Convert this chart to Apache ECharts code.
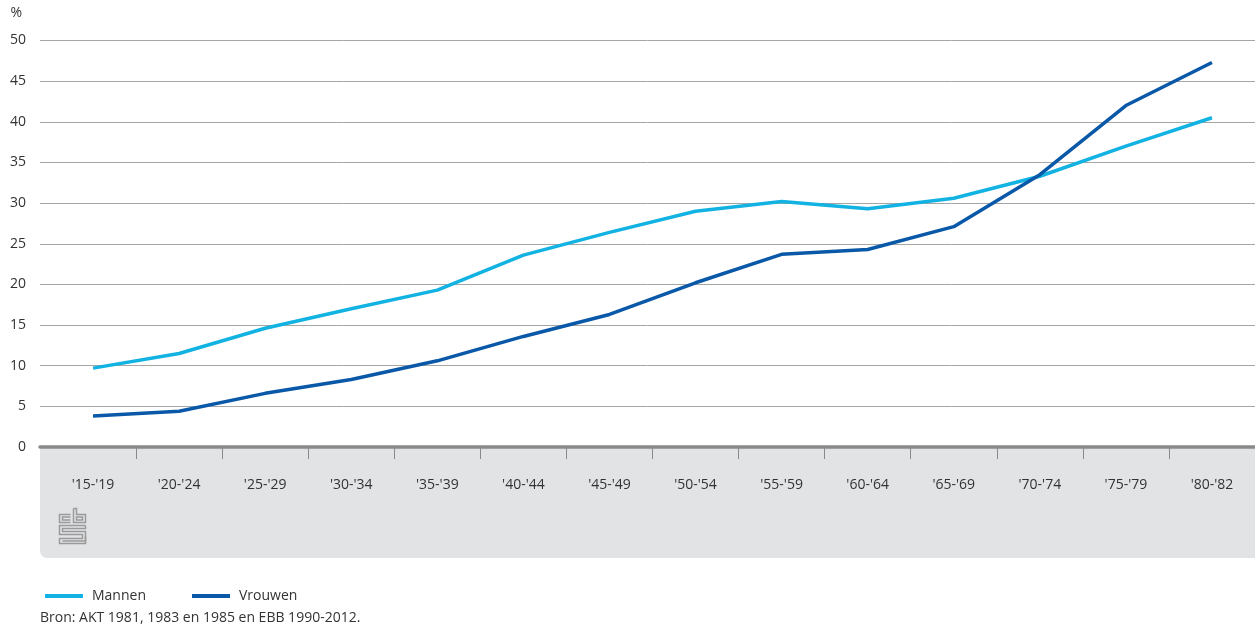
<!DOCTYPE html>
<html>
<head>
<meta charset="utf-8">
<script src="https://cdn.jsdelivr.net/npm/echarts@6/dist/echarts.min.js"></script>
<style>
html,body{margin:0;padding:0;background:#fff;}
#chart{width:1255px;height:627px;}
</style>
</head>
<body>
<div id="chart"></div>
<script>
const categories = ["'15-'19","'20-'24","'25-'29","'30-'34","'35-'39","'40-'44","'45-'49","'50-'54","'55-'59","'60-'64","'65-'69","'70-'74","'75-'79","'80-'82"];
const mannen = [9.7, 11.5, 14.6, 17.0, 19.3, 23.6, 26.4, 29.0, 30.2, 29.3, 30.6, 33.3, 37.0, 40.5];
const vrouwen = [3.8, 4.4, 6.6, 8.3, 10.6, 13.6, 16.3, 20.2, 23.7, 24.3, 27.1, 33.5, 42.0, 47.3];
const seriesNames = ['Mannen', 'Vrouwen'];
const sourceText = 'Bron: AKT 1981, 1983 en 1985 en EBB 1990-2012.';

const FONT = '"Open Sans", "Noto Sans", sans-serif';
const TXT = '#333333';
const LIGHT = '#12b2e2';
const DARK = '#0a58a8';

const chart = echarts.init(document.getElementById('chart'), null, {renderer: 'canvas'});

const logoStroke = {stroke: '#9a9a9a', lineWidth: 1.5, fill: null};
const logo = {
  type: 'group', left: 57, top: 506, z: 5,
  children: [
    {type: 'polyline', shape: {points: [[12,7],[1,7],[1,15],[12,15]]}, style: logoStroke},
    {type: 'polyline', shape: {points: [[12,9.5],[4,9.5],[4,12.5],[12,12.5]]}, style: logoStroke},
    {type: 'polyline', shape: {points: [[15,1],[18,1],[18,7],[27,7],[27,15],[15,15],[15,1]]}, style: logoStroke},
    {type: 'rect', shape: {x: 18, y: 9.5, width: 6, height: 3}, style: logoStroke},
    {type: 'polyline', shape: {points: [[27,18],[1,18],[1,27],[24,27],[24,31],[1,31],[1,36],[27,36],[27,24],[4,24],[4,21],[27,21],[27,18]]}, style: logoStroke},
    {type: 'polyline', shape: {points: [[27,29],[27,33.5],[4,33.5]]}, style: logoStroke}
  ]
};

const option = {
  animation: false,
  backgroundColor: '#ffffff',
  textStyle: {fontFamily: FONT, color: TXT},
  title: {
    text: sourceText, left: 40, top: 611, padding: 0,
    textStyle: {fontFamily: FONT, fontSize: 14, fontWeight: 'normal', color: TXT}
  },
  legend: {
    left: 40, top: 584,
    itemWidth: 38, itemHeight: 4, itemGap: 46,
    icon: 'rect',
    data: seriesNames,
    textStyle: {fontFamily: FONT, fontSize: 14, color: TXT, padding: [0, 0, 0, 4]}
  },
  graphic: [
    {
      type: 'rect', z: -10, silent: true,
      shape: {x: 40, y: 446, width: 1215, height: 112, r: [0, 0, 0, 7]},
      style: {fill: '#e2e3e5'}
    },
    logo
  ],
  grid: [
    {left: 40, right: 0, top: 40.5, height: 406.5, containLabel: false},
    {left: 50, right: -3, top: 40.5, height: 406.5, containLabel: false}
  ],
  xAxis: [
    {
      gridIndex: 0, type: 'value', min: 0, max: 1,
      axisLine: {show: true, onZero: false, lineStyle: {color: '#8a8a8a', width: 3.5}},
      axisTick: {show: false}, axisLabel: {show: false}, splitLine: {show: false}
    },
    {
      gridIndex: 1, type: 'category', data: categories, boundaryGap: true,
      axisLine: {show: false},
      axisTick: {show: true, length: 12, interval: function (i) { return i > 0; }, lineStyle: {color: '#8a8a8a', width: 1}},
      axisLabel: {margin: 31, fontFamily: FONT, fontSize: 14, color: TXT, interval: 0},
      splitLine: {show: false}
    }
  ],
  yAxis: [
    {
      gridIndex: 0, type: 'value', min: 0, max: 50, interval: 5,
      name: '%', nameLocation: 'end', nameGap: 20,
      nameTextStyle: {fontFamily: FONT, fontSize: 14, color: TXT, align: 'right', padding: [0, 18, 0, 0]},
      axisLine: {show: false}, axisTick: {show: false},
      axisLabel: {margin: 14, fontFamily: FONT, fontSize: 14, color: TXT},
      splitLine: {show: true, lineStyle: {color: '#a6a6a6', width: 1}}
    },
    {
      gridIndex: 1, type: 'value', min: 0, max: 50, interval: 5,
      axisLine: {show: false}, axisTick: {show: false}, axisLabel: {show: false}, splitLine: {show: false}
    }
  ],
  series: [
    {
      name: seriesNames[0], type: 'line', xAxisIndex: 1, yAxisIndex: 1,
      data: mannen, showSymbol: false, symbol: 'none', z: 3,
      lineStyle: {color: LIGHT, width: 3.5}, itemStyle: {color: LIGHT}
    },
    {
      name: seriesNames[1], type: 'line', xAxisIndex: 1, yAxisIndex: 1,
      data: vrouwen, showSymbol: false, symbol: 'none', z: 4,
      lineStyle: {color: DARK, width: 3.5}, itemStyle: {color: DARK}
    }
  ]
};
chart.setOption(option);
</script>
</body>
</html>
